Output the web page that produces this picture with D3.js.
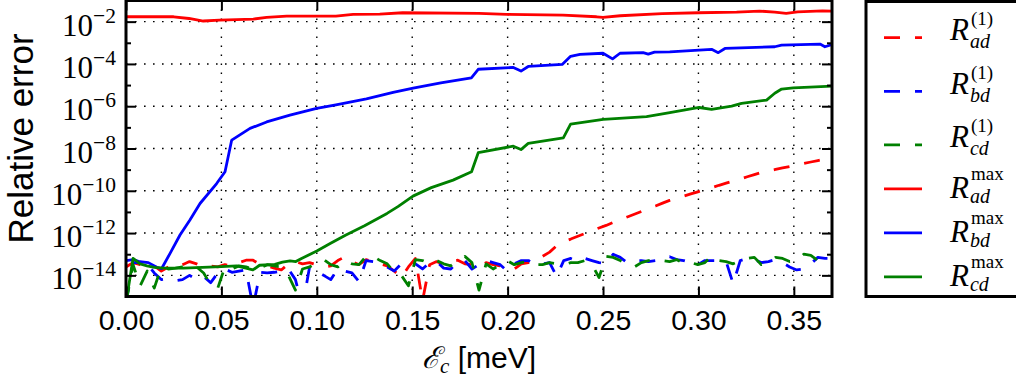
<!DOCTYPE html>
<html>
<head>
<meta charset="utf-8">
<script src="https://cdn.jsdelivr.net/npm/d3@7"></script>
<style>
  html, body { margin: 0; padding: 0; background: #fff; }
  svg { display: block; }
</style>
</head>
<body>
<svg id="chart" width="1016" height="381"></svg>
<script>
// ---- data -------------------------------------------------------------
// common energy grid (meV) of the first-order error curves
const energy = d3.range(101).map(i => +(i * 0.0037).toFixed(4));

// first-order relative errors R^(1) on the energy grid
const adFirst = [
  2.5e-14, 4.0e-14, 3.2e-14, 2.5e-14, 2.8e-14, 1.6e-14, 2.5e-14, 2.2e-14, 3.2e-14, 4.5e-14,
  3.5e-14, 2.5e-14, 2.8e-14, 2.5e-14, 3.2e-14, 2.8e-14, 4.0e-14, 5.2e-14, 5.2e-14, 3.2e-14,
  2.8e-14, 2.2e-14, 1.8e-14, 3.5e-14, 4.5e-14, 3.5e-14, 4.0e-14, 3.2e-14, 2.5e-14, 2.8e-14,
  5.0e-14, 7.6e-14, 4.5e-14, 3.2e-14, 5.6e-14, 4.5e-14, 3.5e-14, 2.8e-14, 1.6e-14, 7.9e-15,
  2.5e-14, 6.3e-14, 6.3e-16, 3.2e-14, 4.5e-14, 3.2e-14, 4.5e-14, 5.2e-14, 3.5e-14, 3.2e-14,
  2.5e-14, 4.0e-14, 3.2e-14, 2.8e-14, 2.5e-14, 2.0e-14, 3.5e-14, 4.0e-14, 5.0e-14, 7.9e-14,
  1.26e-13, 2.5e-13, 3.9e-13, 5.2e-13, 7.1e-13, 9.5e-13, 1.29e-12, 1.74e-12, 2.3e-12, 3.2e-12,
  4.3e-12, 5.8e-12, 7.8e-12, 1.05e-11, 1.41e-11, 1.9e-11, 2.6e-11, 3.5e-11, 4.5e-11, 5.6e-11,
  7.1e-11, 8.9e-11, 1.12e-10, 1.41e-10, 1.82e-10, 2.3e-10, 2.9e-10, 3.6e-10, 4.6e-10, 5.8e-10,
  7.4e-10, 8.7e-10, 1.02e-9, 1.2e-9, 1.41e-9, 1.66e-9, 1.95e-9, 2.3e-9, 2.7e-9, 3.2e-9,
  3.7e-9
];
const bdFirst = [
  5.0e-16, 4.0e-14, 4.0e-14, 3.5e-14, 1.3e-14, 6.3e-15, 7.1e-15, 5.6e-15, 6.3e-15, 1.0e-14,
  6.3e-15, 8.9e-15, 4.5e-15, 1.3e-14, 2.0e-14, 1.4e-14, 1.6e-14, 1.8e-14, 3.2e-16, 1.4e-14,
  1.3e-14, 1.4e-14, 1.6e-14, 2.0e-14, 6.3e-15, 3.2e-16, 2.5e-14, 1.6e-14, 1.0e-14, 6.3e-15,
  2.0e-14, 1.6e-14, 1.3e-14, 5.0e-15, 5.0e-14, 4.5e-14, 3.2e-14, 2.5e-14, 1.6e-14, 3.5e-14,
  2.8e-14, 3.5e-14, 2.0e-14, 4.0e-14, 4.5e-14, 2.2e-14, 2.0e-14, 4.5e-14, 5.0e-14, 2.0e-14,
  3.2e-14, 5.0e-14, 4.0e-14, 3.2e-14, 1.6e-14, 3.5e-14, 5.0e-14, 5.0e-14, 3.2e-14, 3.5e-14,
  4.0e-14, 8.9e-15, 5.0e-14, 6.3e-14, 4.5e-14, 6.3e-14, 5.0e-14, 4.0e-14, 3.5e-14, 1.0e-13,
  7.1e-14, 4.0e-14, 5.0e-14, 5.0e-14, 4.5e-14, 5.0e-14, 7.1e-14, 7.6e-14, 5.6e-14, 5.0e-14,
  4.0e-14, 3.2e-14, 5.0e-14, 5.0e-14, 5.0e-14, 4.5e-14, 4.0e-15, 5.0e-14, 6.3e-14, 5.6e-14,
  4.0e-14, 4.5e-14, 5.6e-14, 4.0e-14, 2.5e-14, 1.8e-14, 2.0e-14, 3.5e-14, 7.1e-14, 6.3e-14,
  6.3e-14
];
const cdFirst = [
  5.0e-16, 3.2e-14, 3.2e-15, 1.6e-14, 2.5e-15, 2.5e-14, 2.0e-14, 2.2e-14, 2.5e-14, 2.0e-14,
  2.5e-14, 1.3e-14, 3.5e-15, 2.5e-15, 2.5e-14, 2.0e-14, 2.8e-14, 2.5e-14, 2.0e-14, 2.2e-14,
  3.2e-14, 2.8e-14, 2.5e-14, 1.0e-14, 2.0e-15, 2.0e-14, 2.5e-14, 4.0e-14, 5.6e-14, 3.2e-14,
  2.5e-14, 5.0e-14, 3.5e-14, 3.2e-14, 7.9e-14, 7.9e-14, 5.0e-14, 3.5e-14, 1.4e-14, 1.0e-14,
  3.2e-15, 5.6e-14, 5.0e-14, 3.5e-14, 5.0e-14, 3.5e-14, 2.8e-14, 5.0e-14, 7.9e-14, 4.0e-14,
  2.0e-15, 3.5e-14, 2.0e-14, 3.2e-14, 5.0e-14, 3.2e-14, 4.0e-14, 4.5e-14, 3.2e-14, 3.2e-14,
  4.0e-14, 3.5e-14, 3.2e-14, 4.0e-14, 4.0e-14, 5.0e-14, 3.2e-14, 7.9e-15, 7.9e-14, 7.1e-14,
  5.0e-14, 3.5e-14, 2.5e-14, 4.0e-14, 5.0e-14, 5.6e-14, 5.0e-14, 4.5e-14, 5.6e-14, 3.5e-14,
  4.0e-14, 3.2e-14, 4.0e-14, 8.9e-14, 5.0e-14, 4.5e-14, 3.5e-14, 5.0e-14, 6.3e-14, 7.1e-14,
  3.2e-14, 4.0e-14, 7.1e-14, 6.3e-14, 4.5e-14, 5.0e-14, 1.0e-13, 8.9e-14, 5.0e-14, 7.1e-14,
  8.9e-14
];

// maximal relative errors R^max as [energy, error] pairs
const adMax = [
  [0, 1.7e-2], [0.025, 1.7e-2], [0.033, 1.41e-2], [0.0405, 1.07e-2], [0.049, 1.17e-2],
  [0.0667, 1.32e-2], [0.0737, 1.58e-2], [0.0842, 1.82e-2], [0.11, 1.82e-2], [0.119, 2.19e-2],
  [0.133, 2.26e-2], [0.145, 2.63e-2], [0.185, 2.45e-2], [0.1995, 2.19e-2], [0.229, 2.04e-2],
  [0.2466, 1.7e-2], [0.25, 1.58e-2], [0.259, 1.9e-2], [0.281, 2.4e-2], [0.3, 2.63e-2],
  [0.32, 2.82e-2], [0.332, 3.16e-2], [0.34, 2.82e-2], [0.346, 2.45e-2], [0.352, 2.88e-2],
  [0.365, 3.24e-2], [0.37, 3.16e-2]
];
const bdMax = [
  [0, 5.0e-14], [0.0038, 5.6e-14], [0.0073, 4.4e-14], [0.0117, 4.0e-14], [0.0161, 2.4e-14],
  [0.0187, 2.1e-14], [0.0231, 1.1e-13], [0.0283, 8.1e-13], [0.0335, 4.2e-12], [0.0388, 2.5e-11],
  [0.0475, 2.2e-10], [0.0519, 7.9e-10], [0.0554, 2.5e-8], [0.065, 8.9e-8], [0.0737, 1.8e-7],
  [0.0859, 3.8e-7], [0.0999, 7.9e-7], [0.11, 1.17e-6], [0.126, 2.2e-6], [0.14, 4.5e-6],
  [0.1505, 7.1e-6], [0.165, 1.26e-5], [0.181, 2.2e-5], [0.1846, 5.6e-5], [0.203, 6.8e-5],
  [0.207, 4.6e-5], [0.2108, 7.6e-5], [0.2286, 9.5e-5], [0.233, 2.3e-4], [0.2379, 2.8e-4],
  [0.25, 3.2e-4], [0.255, 1.74e-4], [0.2589, 3.2e-4], [0.271, 3.4e-4], [0.2737, 2.9e-4],
  [0.277, 3.6e-4], [0.285, 3.7e-4], [0.3069, 4.9e-4], [0.3104, 3.4e-4], [0.3139, 5.4e-4],
  [0.34, 6.5e-4], [0.3436, 7.8e-4], [0.3637, 8.7e-4], [0.3663, 6.5e-4], [0.37, 8.3e-4]
];
const cdMax = [
  [0, 5.0e-16], [0.0037, 6.3e-14], [0.0074, 3.5e-14], [0.011, 2.8e-14], [0.0148, 2.4e-14],
  [0.02, 2.2e-14], [0.03, 2.2e-14], [0.04, 2.4e-14], [0.05, 2.6e-14], [0.058, 2.8e-14],
  [0.0665, 1.8e-14], [0.07, 3.0e-14], [0.078, 3.3e-14], [0.082, 4.2e-14], [0.086, 4.8e-14],
  [0.089, 4.5e-14], [0.092, 6.3e-14], [0.1, 1.41e-13], [0.107, 3.2e-13], [0.115, 7.9e-13],
  [0.125, 2.2e-12], [0.1368, 8.5e-12], [0.1425, 1.78e-11], [0.1504, 5.6e-11], [0.16, 1.41e-10],
  [0.1714, 3.2e-10], [0.1811, 7.9e-10], [0.1846, 6.3e-9], [0.203, 1.29e-8], [0.207, 8.9e-9],
  [0.2108, 1.74e-8], [0.2292, 3.2e-8], [0.233, 1.41e-7], [0.2501, 2.4e-7], [0.2728, 3.2e-7],
  [0.285, 5.0e-7], [0.3004, 8.7e-7], [0.3069, 7.1e-7], [0.3174, 1.0e-6], [0.3226, 1.35e-6],
  [0.3357, 1.95e-6], [0.34, 4.1e-6], [0.3436, 6.5e-6], [0.3497, 7.4e-6], [0.37, 8.9e-6]
];

// axis ticks
const xTicks = [0, 0.05, 0.10, 0.15, 0.20, 0.25, 0.30, 0.35];
const yMajorExp = [-14, -12, -10, -8, -6, -4, -2];
const yMinorExp = [-15, -13, -11, -9, -7, -5, -3, -1];

// legend entries, in plotting order
const legendItems = [
  { sub: "ad", sup: "(1)", color: "#ff0000", dashed: true,  pts: energy.map((e, i) => [e, adFirst[i]]) },
  { sub: "bd", sup: "(1)", color: "#0000ff", dashed: true,  pts: energy.map((e, i) => [e, bdFirst[i]]) },
  { sub: "cd", sup: "(1)", color: "#008000", dashed: true,  pts: energy.map((e, i) => [e, cdFirst[i]]) },
  { sub: "ad", sup: "max", color: "#ff0000", dashed: false, pts: adMax },
  { sub: "bd", sup: "max", color: "#0000ff", dashed: false, pts: bdMax },
  { sub: "cd", sup: "max", color: "#008000", dashed: false, pts: cdMax }
];

// ---- layout -----------------------------------------------------------
const plot = { left: 126, right: 832, top: 0.5, bottom: 296.5 };
const SANS = "'Liberation Sans', Arial, Helvetica, sans-serif";
const SERIF = "'Liberation Serif', 'Times New Roman', serif";
const DASH = "16,15";

const svg = d3.select("#chart");
svg.append("rect").attr("width", 1016).attr("height", 381).attr("fill", "#fff");

const x = d3.scaleLinear().domain([0, 0.37]).range([plot.left, plot.right]);
const y = d3.scaleLog().domain([1e-15, 1e-1]).range([plot.bottom, plot.top]);

svg.append("defs").append("clipPath").attr("id", "plotClip")
  .append("rect")
  .attr("x", plot.left).attr("y", plot.top)
  .attr("width", plot.right - plot.left).attr("height", plot.bottom - plot.top);

// dotted grid
const grid = svg.append("g").attr("stroke", "#000").attr("stroke-width", 1.4)
  .attr("stroke-dasharray", "1.6,7.4");
grid.selectAll("line.vx").data(xTicks.slice(1)).join("line")
  .attr("x1", d => x(d)).attr("x2", d => x(d))
  .attr("y1", plot.top).attr("y2", plot.bottom);
grid.selectAll("line.hy").data(yMajorExp).join("line")
  .attr("x1", plot.left).attr("x2", plot.right)
  .attr("y1", d => y(Math.pow(10, d))).attr("y2", d => y(Math.pow(10, d)));

// curves
const line = d3.line().x(d => x(d[0])).y(d => y(d[1]));
const curves = svg.append("g").attr("clip-path", "url(#plotClip)");
legendItems.forEach(s => {
  curves.append("path")
    .attr("d", line(s.pts))
    .attr("fill", "none")
    .attr("stroke", s.color)
    .attr("stroke-width", 2.8)
    .attr("stroke-linejoin", "round")
    .attr("stroke-dasharray", s.dashed ? DASH : null);
});

// axes with inward ticks
function styleAxis(sel) {
  sel.select(".domain").remove();
  sel.selectAll(".tick line").attr("stroke", "#000").attr("stroke-width", 2);
}
const bottomAxis = d3.axisBottom(x).tickValues(xTicks).tickFormat(d3.format(".2f"))
  .tickSizeInner(-10).tickSizeOuter(0).tickPadding(0);
const gb = svg.append("g").attr("transform", `translate(0,${plot.bottom})`).call(bottomAxis);
styleAxis(gb);
gb.selectAll(".tick text")
  .attr("y", 33.5).attr("dy", 0)
  .attr("font-family", SANS).attr("font-size", 28.5).attr("fill", "#000");

const topAxis = d3.axisTop(x).tickValues(xTicks).tickFormat("")
  .tickSizeInner(-10).tickSizeOuter(0);
styleAxis(svg.append("g").attr("transform", `translate(0,${plot.top})`).call(topAxis));

const leftAxis = d3.axisLeft(y).tickValues(yMajorExp.map(e => Math.pow(10, e)))
  .tickFormat("").tickSizeInner(-10).tickSizeOuter(0).tickPadding(9);
const gl = svg.append("g").attr("transform", `translate(${plot.left},0)`).call(leftAxis);
styleAxis(gl);
gl.selectAll(".tick text").each(function (d) {
  const t = d3.select(this)
    .attr("x", -10).attr("dy", 0).attr("y", 13.5)
    .attr("text-anchor", "end")
    .attr("font-family", SERIF).attr("fill", "#000");
  t.append("tspan").attr("font-size", 31).text("10");
  t.append("tspan").attr("font-size", 21.5).attr("dy", -13)
    .text("\u2212" + Math.round(-Math.log10(d)));
});
const leftMinor = d3.axisLeft(y).tickValues(yMinorExp.map(e => Math.pow(10, e)))
  .tickFormat("").tickSizeInner(-5).tickSizeOuter(0);
styleAxis(svg.append("g").attr("transform", `translate(${plot.left},0)`).call(leftMinor));

const rightAxis = d3.axisRight(y).tickValues(yMajorExp.map(e => Math.pow(10, e)))
  .tickFormat("").tickSizeInner(-10).tickSizeOuter(0);
styleAxis(svg.append("g").attr("transform", `translate(${plot.right},0)`).call(rightAxis));
const rightMinor = d3.axisRight(y).tickValues(yMinorExp.map(e => Math.pow(10, e)))
  .tickFormat("").tickSizeInner(-5).tickSizeOuter(0);
styleAxis(svg.append("g").attr("transform", `translate(${plot.right},0)`).call(rightMinor));

// frame
svg.append("rect")
  .attr("x", plot.left).attr("y", plot.top)
  .attr("width", plot.right - plot.left).attr("height", plot.bottom - plot.top)
  .attr("fill", "none").attr("stroke", "#000").attr("stroke-width", 3);

// axis titles
svg.append("text")
  .attr("transform", `translate(33,${(plot.top + plot.bottom) / 2 - 10}) rotate(-90)`)
  .attr("text-anchor", "middle")
  .attr("font-family", SANS).attr("font-size", 35).attr("fill", "#000")
  .text("Relative error");

const xt = svg.append("text")
  .attr("x", (plot.left + plot.right) / 2).attr("y", 368)
  .attr("text-anchor", "middle").attr("fill", "#000");
xt.append("tspan").attr("font-family", "'DejaVu Serif', serif").attr("font-style", "italic")
  .attr("font-size", 30).text("\u2130");
xt.append("tspan").attr("font-family", SERIF).attr("font-style", "italic")
  .attr("font-size", 21).attr("dy", 5).text("c");
xt.append("tspan").attr("font-family", SANS).attr("font-size", 30).attr("dy", -5)
  .text(" [meV]");

// legend: R with a superscript over a subscript
const lg = svg.append("g");
lg.append("rect").attr("x", 866).attr("y", 1.5).attr("width", 170).attr("height", 295)
  .attr("fill", "#fff").attr("stroke", "#000").attr("stroke-width", 3);
let rowY = 37.7;
legendItems.forEach((s, i) => {
  const isFirst = s.sup === "(1)";
  if (i > 0) rowY += isFirst ? 53.6 : 44;
  lg.append("line")
    .attr("x1", 884).attr("x2", 922).attr("y1", rowY).attr("y2", rowY)
    .attr("stroke", s.color).attr("stroke-width", 2.8)
    .attr("stroke-dasharray", s.dashed ? DASH : null);
  const base = rowY + (isFirst ? 2.5 : 9.5);
  const r = lg.append("text").attr("x", 950).attr("y", base)
    .attr("font-family", SERIF).attr("font-style", "italic").attr("font-size", 31)
    .attr("fill", "#000").text("R");
  const rx = 950 + r.node().getComputedTextLength() + 1;
  lg.append("text").attr("x", rx).attr("y", base + (isFirst ? 8 : 4.5))
    .attr("font-family", SERIF).attr("font-style", "italic").attr("font-size", 20)
    .attr("fill", "#000").text(s.sub);
  lg.append("text").attr("x", rx + 1).attr("y", base - (isFirst ? 15 : 18.5))
    .attr("font-family", SERIF).attr("font-size", 19)
    .attr("fill", "#000").text(s.sup);
});
</script>
</body>
</html>
